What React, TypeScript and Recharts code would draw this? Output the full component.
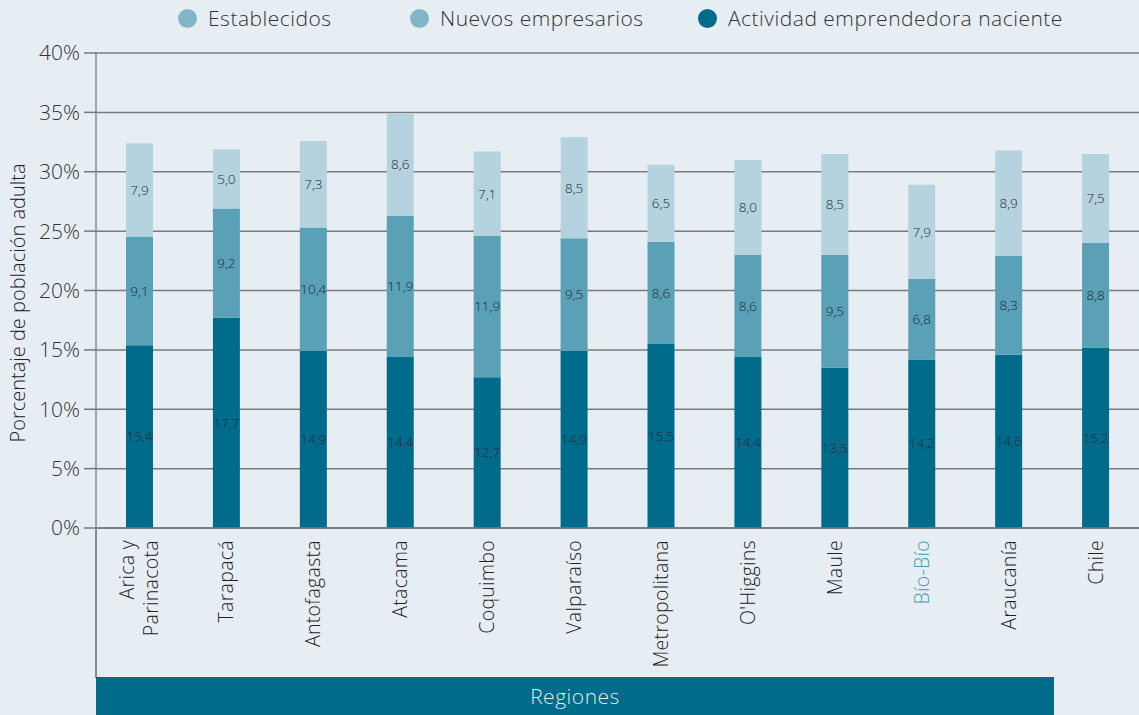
import { BarChart, Bar, XAxis, YAxis, CartesianGrid, LabelList } from "recharts";

const regions = [
  "Arica y Parinacota",
  "Tarapacá",
  "Antofagasta",
  "Atacama",
  "Coquimbo",
  "Valparaíso",
  "Metropolitana",
  "O'Higgins",
  "Maule",
  "Bío-Bío",
  "Araucanía",
  "Chile",
];
const naciente = [15.4, 17.7, 14.9, 14.4, 12.7, 14.9, 15.5, 14.4, 13.5, 14.2, 14.6, 15.2];
const nuevos = [9.1, 9.2, 10.4, 11.9, 11.9, 9.5, 8.6, 8.6, 9.5, 6.8, 8.3, 8.8];
const establecidos = [7.9, 5.0, 7.3, 8.6, 7.1, 8.5, 6.5, 8.0, 8.5, 7.9, 8.9, 7.5];
const yTicks = [0, 5, 10, 15, 20, 25, 30, 35, 40];

const data = regions.map((region, i) => ({
  region,
  naciente: naciente[i],
  nuevos: nuevos[i],
  establecidos: establecidos[i],
}));

const FONT = "'Open Sans', sans-serif";
const BG = "#e6eef4";
const DARK = "#006b8b";
const MID = "#5aa0b6";
const LIGHT = "#b5d3de";

const fmt = (v: any) => Number(v).toFixed(1).replace(".", ",");

const RegionTick = ({ x, y, payload }: any) => {
  const name: string = payload.value;
  const color = name === "Bío-Bío" ? "#4a9ab5" : "#222";
  const lines = name === "Arica y Parinacota" ? ["Arica y", "Parinacota"] : [name];
  return (
    <g transform={`translate(${x},${y + 4})`}>
      {lines.map((line, i) => (
        <text
          key={i}
          transform="rotate(-90)"
          x={0}
          y={lines.length === 1 ? 7 : i === 0 ? -5 : 19}
          textAnchor="end"
          fill={color}
          fontSize={19.5}
          fontFamily={FONT}
          fontWeight={300}
          letterSpacing={0.3}
        >
          {line}
        </text>
      ))}
    </g>
  );
};

const YLabel = () => (
  <text
    transform="translate(25,303) rotate(-90)"
    textAnchor="middle"
    fill="#222"
    fontSize={20}
    fontFamily={FONT}
    fontWeight={300}
  >
    Porcentaje de población adulta
  </text>
);

const legendItems = [
  { name: "Establecidos", color: "#80b6c6", x: 178 },
  { name: "Nuevos empresarios", color: "#80b6c6", x: 410 },
  { name: "Actividad emprendedora naciente", color: DARK, x: 698 },
];

export default function App() {
  return (
    <div
      style={{
        position: "absolute",
        left: 0,
        top: 0,
        width: 1139,
        height: 715,
        background: BG,
        overflow: "hidden",
        fontFamily: FONT,
      }}
    >
      {legendItems.map((item) => (
        <div
          key={item.name}
          style={{
            position: "absolute",
            left: item.x,
            top: 4,
            display: "flex",
            alignItems: "center",
            gap: 11,
            fontSize: 21,
            fontWeight: 300,
            color: "#333",
            letterSpacing: 0.5,
            whiteSpace: "nowrap",
          }}
        >
          <span
            style={{
              width: 19,
              height: 19,
              borderRadius: "50%",
              background: item.color,
              display: "inline-block",
            }}
          />
          {item.name}
        </div>
      ))}

      <BarChart
        width={1139}
        height={715}
        data={data}
        margin={{ top: 53, right: 0, left: 0, bottom: 0 }}
        barSize={27}
      >
        <CartesianGrid vertical={false} stroke="#7a7a7a" strokeWidth={1.5} />
        <XAxis
          dataKey="region"
          height={187}
          interval={0}
          tickLine={false}
          axisLine={{ stroke: "#777", strokeWidth: 1.5 }}
          tick={<RegionTick />}
        />
        <YAxis
          width={96}
          domain={[0, 40]}
          ticks={yTicks}
          tickFormatter={(v) => `${v}%`}
          tickSize={12}
          tickMargin={4}
          tickLine={{ stroke: "#777", strokeWidth: 1.5 }}
          axisLine={{ stroke: "#8a8a8a", strokeWidth: 1.5 }}
          tick={{ fill: "#333", fontSize: 21, fontFamily: FONT, fontWeight: 300 }}
          label={<YLabel />}
        />
        <Bar dataKey="naciente" stackId="a" fill={DARK} isAnimationActive={false}>
          <LabelList dataKey="naciente" position="center" formatter={fmt} fill="#1d2b33" fontSize={13.5} fontFamily={FONT} fontWeight={300} />
        </Bar>
        <Bar dataKey="nuevos" stackId="a" fill={MID} isAnimationActive={false}>
          <LabelList dataKey="nuevos" position="center" formatter={fmt} fill="#1d2b33" fontSize={13.5} fontFamily={FONT} fontWeight={300} />
        </Bar>
        <Bar dataKey="establecidos" stackId="a" fill={LIGHT} isAnimationActive={false}>
          <LabelList dataKey="establecidos" position="center" formatter={fmt} fill="#1d2b33" fontSize={13.5} fontFamily={FONT} fontWeight={300} />
        </Bar>
      </BarChart>

      <div
        style={{
          position: "absolute",
          left: 95,
          top: 528,
          width: 1.5,
          height: 150,
          background: "#8a8a8a",
        }}
      />
      <div
        style={{
          position: "absolute",
          left: 96,
          top: 677,
          width: 958,
          height: 38,
          background: DARK,
          color: "#dfeaf0",
          fontSize: 21,
          fontWeight: 300,
          textAlign: "center",
          lineHeight: "38px",
          letterSpacing: 0.5,
        }}
      >
        Regiones
      </div>
    </div>
  );
}
